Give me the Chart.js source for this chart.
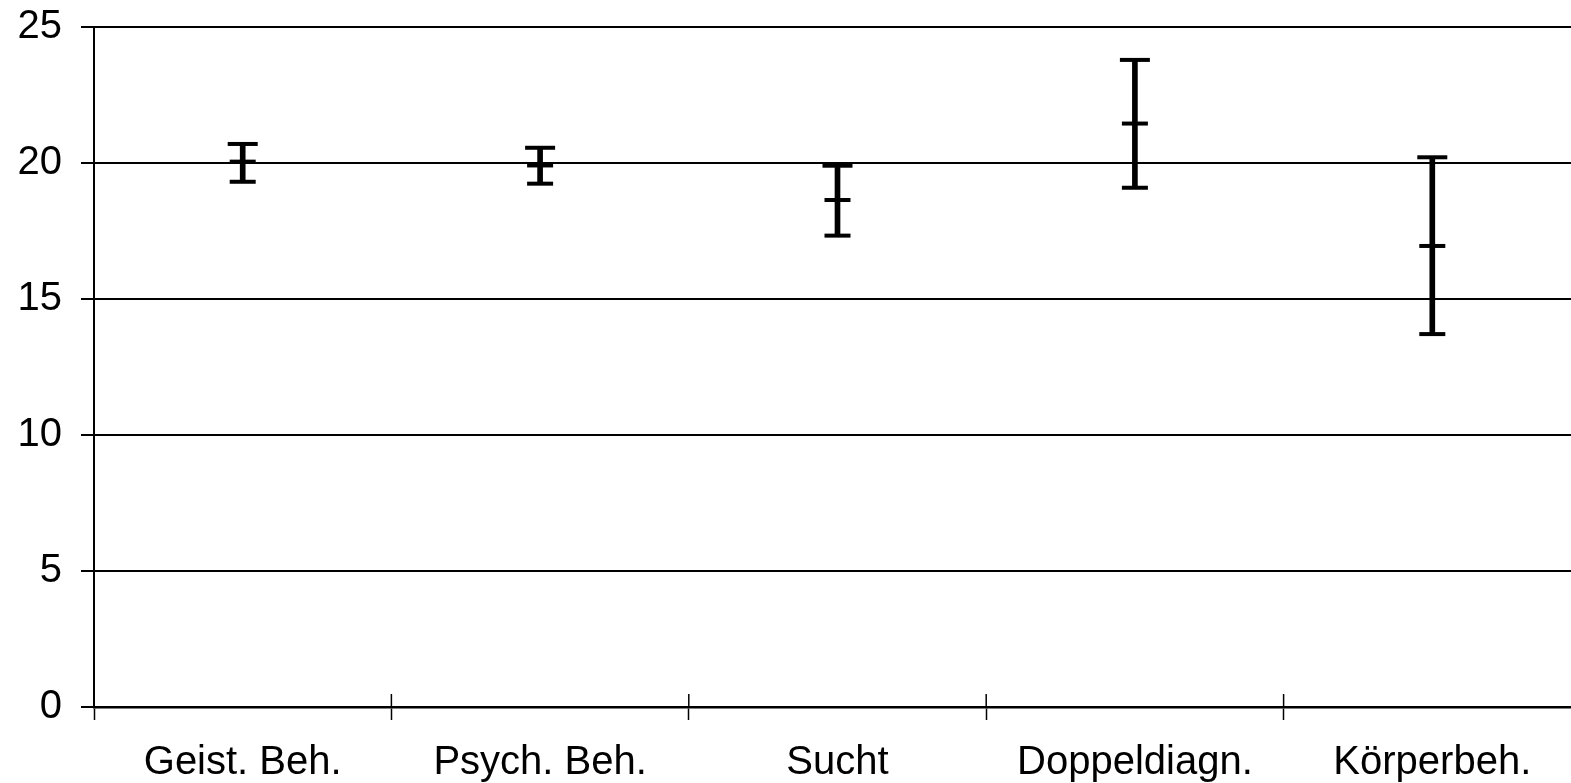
<!DOCTYPE html>
<html>
<head>
<meta charset="utf-8">
<script src="https://cdn.jsdelivr.net/npm/chart.js@4/dist/chart.umd.min.js"></script>
<style>
  html, body { margin: 0; padding: 0; background: #fff; overflow: hidden; }
  #wrap { width: 1600px; height: 783px; position: relative; }
</style>
</head>
<body>
<div id="wrap"><canvas id="chart"></canvas></div>
<script>
const categories = ['Geist. Beh.', 'Psych. Beh.', 'Sucht', 'Doppeldiagn.', 'Körperbeh.'];
const means = [20.05, 19.91, 18.64, 21.45, 16.95];
const lows = [19.31, 19.24, 17.33, 19.09, 13.71];
const highs = [20.70, 20.56, 19.90, 23.79, 20.21];
const yTicks = [0, 5, 10, 15, 20, 25];

const FONT = { family: '"Liberation Sans", Arial, sans-serif', size: 40 };

// kleine Striche, die die x-Achse nach oben kreuzen
const crossTicks = {
  id: 'crossTicks',
  afterDraw(chart) {
    const x = chart.scales.x, area = chart.chartArea, ctx = chart.ctx;
    ctx.save();
    ctx.strokeStyle = '#000';
    ctx.lineWidth = 1.5;
    for (let i = 0; i <= categories.length; i++) {
      const px = x.getPixelForValue(i - 0.5);
      ctx.beginPath();
      ctx.moveTo(px, area.bottom - 13);
      ctx.lineTo(px, area.bottom);
      ctx.stroke();
    }
    ctx.restore();
  }
};

new Chart(document.getElementById('chart'), {
  type: 'bar',
  plugins: [crossTicks],
  data: {
    labels: categories,
    datasets: [
      {
        label: 'range',
        data: lows.map((l, i) => [l, highs[i]]),
        backgroundColor: '#000',
        barThickness: 5,
        order: 2
      },
      {
        type: 'line', label: 'high', data: highs, showLine: false,
        pointStyle: 'line', pointRadius: 15, borderWidth: 4, borderColor: '#000', order: 1
      },
      {
        type: 'line', label: 'mean', data: means, showLine: false,
        pointStyle: 'line', pointRadius: 13, borderWidth: 4, borderColor: '#000', order: 1
      },
      {
        type: 'line', label: 'low', data: lows, showLine: false,
        pointStyle: 'line', pointRadius: 13, borderWidth: 4, borderColor: '#000', order: 1
      }
    ]
  },
  options: {
    responsive: true,
    maintainAspectRatio: false,
    animation: false,
    layout: { padding: { left: 0, top: 27, right: 18, bottom: 0 } },
    plugins: { legend: { display: false }, tooltip: { enabled: false } },
    scales: {
      x: {
        offset: true,
        grid: { display: true, drawOnChartArea: false, offset: true, tickLength: 13, tickColor: '#000', tickWidth: 1.5 },
        border: { display: true, color: '#000', width: 2.5 },
        ticks: { color: '#000', font: FONT, padding: 19, maxRotation: 0 },
        afterFit(scale) { scale.height = 76; scale.paddingLeft = 0; scale.paddingRight = 0; }
      },
      y: {
        min: 0, max: 25,
        afterBuildTicks(scale) { scale.ticks = yTicks.map(v => ({ value: v })); },
        grid: { color: '#000', lineWidth: 2, tickLength: 13, tickColor: '#000', tickWidth: 2 },
        border: { display: true, color: '#000', width: 2 },
        ticks: { color: '#000', font: FONT, padding: 19 },
        afterFit(scale) { scale.width = 94; scale.paddingTop = 0; scale.paddingBottom = 0; }
      }
    }
  }
});
</script>
</body>
</html>
